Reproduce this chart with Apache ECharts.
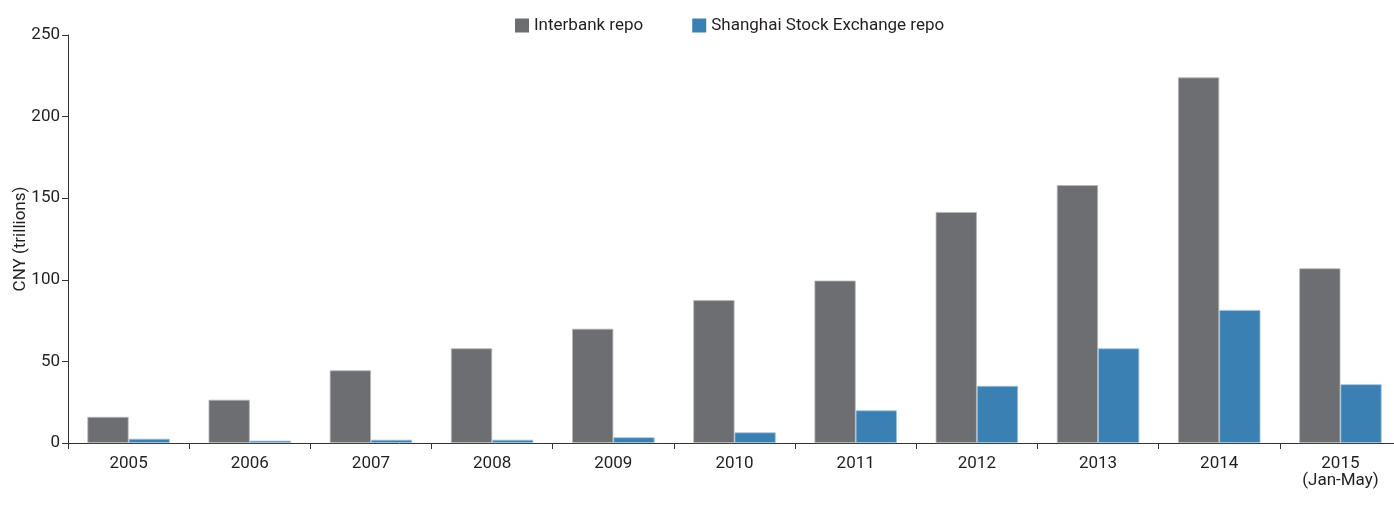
<!DOCTYPE html>
<html><head><meta charset="utf-8">
<script src="https://cdn.jsdelivr.net/npm/echarts@6/dist/echarts.min.js"></script>
<style>html,body{margin:0;padding:0;background:#fff}#c{width:1394px;height:506px}</style>
</head><body><div id="c"></div>
<script>
const categories = ['2005','2006','2007','2008','2009','2010','2011','2012','2013','2014','2015\n(Jan-May)'];
const interbank = [16, 26.5, 44.5, 58, 70, 87.5, 99.5, 141.5, 158, 224, 107];
const sse = [2.6, 1.4, 2, 2, 3.5, 6.5, 20, 35, 58, 81.5, 36];
const yTicks = [0, 50, 100, 150, 200, 250];
const font = 'Roboto, "Open Sans", sans-serif';
const chart = echarts.init(document.getElementById('c'));
chart.setOption({
  animation: false,
  textStyle: {fontFamily: font},
  legend: {
    top: 12, left: 510, itemWidth: 14, itemHeight: 14, itemGap: 49,
    icon: 'rect',
    itemStyle: {borderWidth: 0},
    textStyle: {fontSize: 17, color: '#231f20', fontFamily: font},
    data: ['Interbank repo', 'Shanghai Stock Exchange repo']
  },
  grid: {left: 68, width: 1333, top: 35, bottom: 63, containLabel: false, outerBoundsMode: 'none'},
  xAxis: {
    type: 'category', data: categories,
    axisLine: {lineStyle: {color: '#333', width: 1}},
    axisTick: {show: true, length: 6, lineStyle: {color: '#333'}},
    axisLabel: {fontSize: 17, color: '#231f20', margin: 12, lineHeight: 17, fontFamily: font}
  },
  yAxis: {
    type: 'value', min: 0, max: 250, interval: 50,
    name: 'CNY (trillions)', nameLocation: 'middle', nameGap: 39, nameRotate: 90,
    nameMoveOverlap: false,
    nameTextStyle: {fontSize: 17, color: '#231f20', fontFamily: font},
    axisLine: {show: true, lineStyle: {color: '#333', width: 1}},
    axisTick: {show: true, length: 6, lineStyle: {color: '#333'}},
    splitLine: {show: false},
    axisLabel: {fontSize: 17, color: '#231f20', margin: 8, fontFamily: font,
      formatter: v => yTicks.includes(v) ? String(v) : ''}
  },
  series: [
    {name: 'Interbank repo', type: 'bar', data: interbank, barGap: '0%', barCategoryGap: '32%',
     itemStyle: {color: '#6d6e71', borderColor: '#b5b6b8', borderWidth: 0.8}},
    {name: 'Shanghai Stock Exchange repo', type: 'bar', data: sse,
     itemStyle: {color: '#3a80b3', borderColor: '#9fc3de', borderWidth: 0.8}}
  ]
});
</script></body></html>
